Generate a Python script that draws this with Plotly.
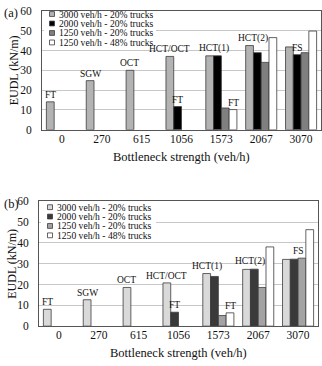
import plotly.graph_objects as go

# Bottleneck strengths (category axis)
categories = ["0", "270", "615", "1056", "1573", "2067", "3070"]
series_names = [
    "3000 veh/h - 20% trucks",
    "2000 veh/h - 20% trucks",
    "1250 veh/h - 20% trucks",
    "1250 veh/h - 48% trucks",
]

# Panel (a) EUDL values (kN/m)
a_3000_20 = [14.1, 24.8, 30.0, 37.0, 37.3, 42.5, 41.8]
a_2000_20 = [None, None, None, 11.7, 37.3, 38.9, 37.9]
a_1250_20 = [None, None, None, None, 11.0, 34.0, 38.9]
a_1250_48 = [None, None, None, None, 10.2, 46.5, 49.8]

# Panel (b) EUDL values (kN/m)
b_3000_20 = [8.1, 12.7, 18.6, 20.8, 25.3, 27.3, 32.1]
b_2000_20 = [None, None, None, 6.7, 23.9, 27.4, 32.2]
b_1250_20 = [None, None, None, None, 5.1, 18.6, 32.7]
b_1250_48 = [None, None, None, None, 6.4, 38.1, 46.4]

# Failure-mode labels: (text, category index, series indices it sits over)
a_labels = [
    ("FT", 0, [0]), ("SGW", 1, [0]), ("OCT", 2, [0]),
    ("HCT/OCT", 3, [0]), ("FT", 3, [1]),
    ("HCT(1)", 4, [0, 1]), ("FT", 4, [3]),
    ("HCT(2)", 5, [0, 1]), ("FS", 6, [1]),
]
b_labels = [
    ("FT", 0, [0]), ("SGW", 1, [0]), ("OCT", 2, [0]),
    ("HCT/OCT", 3, [0]), ("FT", 3, [1]),
    ("HCT(1)", 4, [0]), ("FT", 4, [3]),
    ("HCT(2)", 5, [0, 1]), ("FS", 6, [1, 2]),
]

y_ticks = [0, 10, 20, 30, 40, 50, 60]

a_colors = ["#b3b3b3", "#000000", "#7f7f7f", "#ffffff"]
b_colors = ["#d9d9d9", "#3a3a3a", "#a3a3a3", "#ffffff"]

W, H = 322, 366
FONT = "Liberation Serif"
BARGAP = 0.22
NSER = 4
BW = (1 - BARGAP) / NSER


def px(x):
    return x / W


def py(y):
    return 1 - y / H


fig = go.Figure()

panels = [
    dict(data=[a_3000_20, a_2000_20, a_1250_20, a_1250_48], colors=a_colors,
         labels=a_labels, xa="x", ya="y", tag="(a)", tag_y=7, ytitle_x=14,
         xdom=(42, 321), ydom=(5, 128), leg=(52, 57, 8.3, 9.8)),
    dict(data=[b_3000_20, b_2000_20, b_1250_20, b_1250_48], colors=b_colors,
         labels=b_labels, xa="x2", ya="y2", tag="(b)", tag_y=205, ytitle_x=12,
         xdom=(39, 318), ydom=(202, 331), leg=(50, 55, 208, 9.7)),
]

annotations = []
shapes = []
xpos = list(range(len(categories)))

for p in panels:
    for k, (vals, col) in enumerate(zip(p["data"], p["colors"])):
        fig.add_trace(go.Bar(
            x=xpos, y=vals, name=series_names[k], marker_color=col,
            marker_line=dict(color="#3c3c3c", width=0.8),
            xaxis=p["xa"], yaxis=p["ya"], showlegend=False,
        ))
    # Failure-mode labels above bars
    for text, g, ks in p["labels"]:
        xs = [g + (k - (NSER - 1) / 2) * BW for k in ks]
        ys = [p["data"][k][g] for k in ks]
        annotations.append(dict(
            text=text, x=sum(xs) / len(xs), y=max(ys),
            xref=p["xa"], yref=p["ya"], xanchor="center", yanchor="bottom",
            yshift=0, showarrow=False,
            font=dict(family=FONT, size=9.5, color="#111"),
        ))
    x0, x1 = p["xdom"]
    y0, y1 = p["ydom"]
    # Axis titles
    annotations.append(dict(
        text="EUDL (kN/m)", x=px(p["ytitle_x"]), y=py((y0 + y1) / 2),
        xref="paper", yref="paper",
        textangle=-90, showarrow=False, xanchor="center", yanchor="middle",
        font=dict(family=FONT, size=12, color="#111"),
    ))
    annotations.append(dict(
        text="Bottleneck strength (veh/h)", x=px((x0 + x1) / 2), y=py(y1 + 28),
        xref="paper", yref="paper", showarrow=False, xanchor="center", yanchor="middle",
        font=dict(family=FONT, size=12.5, color="#111"),
    ))
    annotations.append(dict(
        text=p["tag"], x=px(2), y=py(p["tag_y"]), xref="paper", yref="paper",
        showarrow=False, xanchor="left", yanchor="middle",
        font=dict(family=FONT, size=12.5, color="#111"),
    ))
    # Legend box
    mx, tx, ly, dy = p["leg"]
    shapes.append(dict(
        type="rect", xref="paper", yref="paper",
        x0=px(x0 + 2), x1=px(156), y0=py(y0 + 1), y1=py(ly + 3 * dy + 5),
        fillcolor="white", line=dict(width=0), layer="above",
    ))
    for k, name in enumerate(series_names):
        yc = ly + k * dy
        shapes.append(dict(
            type="rect", xref="paper", yref="paper",
            x0=px(mx - 2.5), x1=px(mx + 2.5), y0=py(yc + 2.5), y1=py(yc - 2.5),
            fillcolor=p["colors"][k], line=dict(color="#3c3c3c", width=0.8),
            layer="above",
        ))
        annotations.append(dict(
            text=name, x=px(tx), y=py(yc), xref="paper", yref="paper",
            showarrow=False, xanchor="left", yanchor="middle",
            font=dict(family=FONT, size=9.6, color="#111"),
        ))

axis_common_x = dict(
    tickmode="array", tickvals=xpos, ticktext=categories, range=[-0.5, len(categories) - 0.5],
    showline=True, linecolor="#555", linewidth=1, mirror=True, ticks="",
    showgrid=False, zeroline=False, ticklabelstandoff=-2,
    tickfont=dict(family=FONT, size=11.5, color="#111"),
)
axis_common_y = dict(
    range=[0, 60], tickvals=y_ticks, showline=True, linecolor="#555", linewidth=1,
    mirror=True, ticks="", showgrid=True, gridcolor="#c8c8c8", gridwidth=1,
    zeroline=False, ticklabelstandoff=7,
    tickfont=dict(family=FONT, size=11.5, color="#111"),
)

fig.update_layout(
    width=W, height=H, margin=dict(l=0, r=0, t=0, b=0),
    paper_bgcolor="white", plot_bgcolor="white",
    barmode="group", bargap=BARGAP, bargroupgap=0,
    font=dict(family=FONT, color="#111"),
    xaxis=dict(domain=[px(42), px(321)], anchor="y", **axis_common_x),
    yaxis=dict(domain=[py(128), py(5)], anchor="x", **axis_common_y),
    xaxis2=dict(domain=[px(39), px(318)], anchor="y2", **axis_common_x),
    yaxis2=dict(domain=[py(331), py(202)], anchor="x2", **axis_common_y),
    annotations=annotations, shapes=shapes, showlegend=False,
)

fig.write_html("out.html")
